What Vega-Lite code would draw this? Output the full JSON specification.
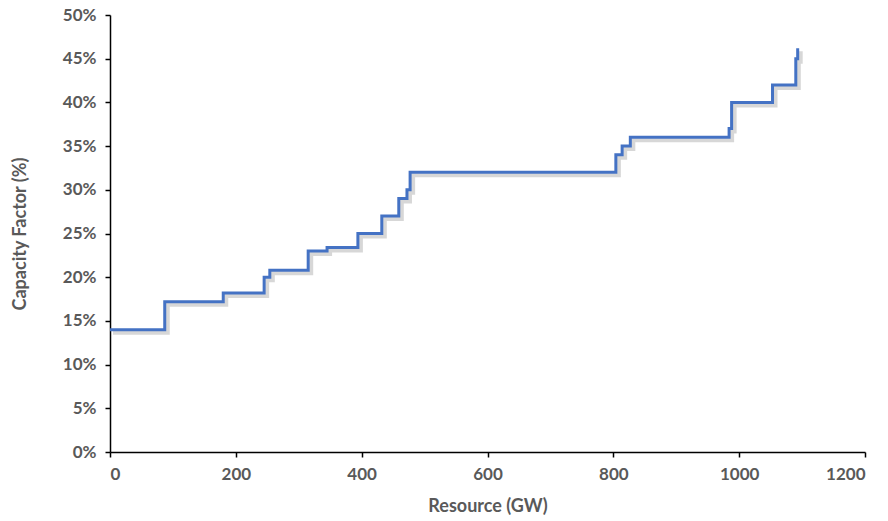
{
  "$schema": "https://vega.github.io/schema/vega-lite/v6.json",
  "width": 755,
  "height": 437,
  "autosize": {"type": "none"},
  "padding": {"left": 110, "top": 15, "right": 23, "bottom": 69},
  "background": "white",
  "data": {"values": [
    {"gw": 0, "cf": 0.14},
    {"gw": 87, "cf": 0.172},
    {"gw": 180, "cf": 0.182},
    {"gw": 245, "cf": 0.20},
    {"gw": 254, "cf": 0.208},
    {"gw": 315, "cf": 0.23},
    {"gw": 345, "cf": 0.234},
    {"gw": 394, "cf": 0.25},
    {"gw": 432, "cf": 0.27},
    {"gw": 459, "cf": 0.29},
    {"gw": 472, "cf": 0.30},
    {"gw": 477, "cf": 0.32},
    {"gw": 804, "cf": 0.34},
    {"gw": 814, "cf": 0.35},
    {"gw": 827, "cf": 0.36},
    {"gw": 984, "cf": 0.37},
    {"gw": 988, "cf": 0.40},
    {"gw": 1053, "cf": 0.42},
    {"gw": 1090, "cf": 0.45},
    {"gw": 1093, "cf": 0.46},
    {"gw": 1093, "cf": 0.462}
  ]},
  "encoding": {
    "x": {"field": "gw", "type": "quantitative", "scale": {"domain": [0, 1200], "nice": false},
      "axis": {"title": "Resource (GW)", "format": "d", "values": [0, 200, 400, 600, 800, 1000, 1200], "grid": false,
        "domainColor": "#000000", "domainWidth": 1.5, "tickColor": "#000000", "tickWidth": 1.5, "tickSize": 5,
        "labelFont": "Lato", "labelFontSize": 17, "labelFontWeight": "bold", "labelColor": "#595959", "labelPadding": 9,
        "titleFont": "Lato", "titleFontSize": 18, "titleFontWeight": "bold", "titleColor": "#595959", "titlePadding": 15}},
    "y": {"field": "cf", "type": "quantitative", "scale": {"domain": [0, 0.5], "nice": false},
      "axis": {"title": "Capacity Factor (%)", "format": ".0%", "values": [0, 0.05, 0.1, 0.15, 0.2, 0.25, 0.3, 0.35, 0.4, 0.45, 0.5], "grid": false,
        "domainColor": "#000000", "domainWidth": 1.5, "tickColor": "#000000", "tickWidth": 1.5, "tickSize": 5,
        "labelFont": "Lato", "labelFontSize": 17, "labelFontWeight": "bold", "labelColor": "#595959", "labelPadding": 9,
        "titleFont": "Lato", "titleFontSize": 18, "titleFontWeight": "bold", "titleColor": "#595959", "titlePadding": 33}}
  },
  "layer": [
    {"mark": {"type": "line", "interpolate": "step-after", "color": "#b0b0b0", "opacity": 0.5, "strokeWidth": 4, "xOffset": 3, "yOffset": 3}},
    {"mark": {"type": "line", "interpolate": "step-after", "color": "#4472C4", "strokeWidth": 3}}
  ],
  "config": {"view": {"stroke": null}}
}
